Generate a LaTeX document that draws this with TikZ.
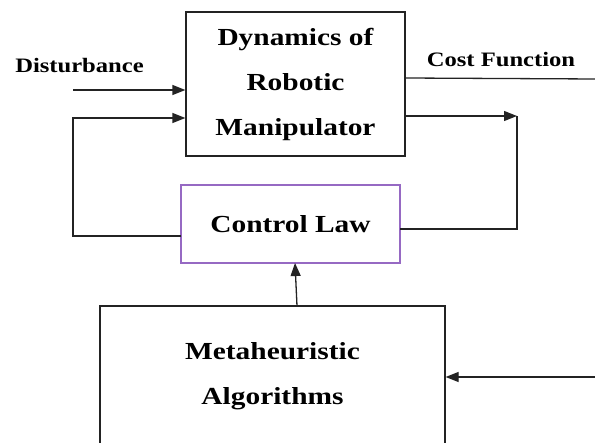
\documentclass[tikz,border=0pt]{standalone}
\usepackage{fontspec}
\setmainfont{Liberation Serif}[FakeStretch=1.2]
\usetikzlibrary{arrows.meta}
\definecolor{ink}{RGB}{35,35,35}
\definecolor{lawpurple}{RGB}{150,105,195}
\begin{document}
\begin{tikzpicture}[x=1pt,y=-1pt,
  wire/.style={draw=ink,line width=1.3pt},
  arr/.style={wire,-{Triangle[length=13pt,width=10pt]}},
  block/.style={draw=ink,line width=1.3pt,inner sep=0pt,align=center,
    font=\bfseries\fontsize{24.5}{45}\selectfont},
  lbl/.style={font=\bfseries\fontsize{20.5}{24}\selectfont,inner sep=0pt,anchor=base}]
\useasboundingbox (0,0) rectangle (595,443);

% blocks
\node[block,minimum width=219pt,minimum height=144pt] (dyn) at (295.5,84)
  {Dynamics of\\Robotic\\Manipulator};
\node[block,draw=lawpurple,minimum width=219pt,minimum height=78pt] (law) at (290.5,224)
  {Control Law};
\node[block,minimum width=345pt,minimum height=140pt] (meta) at (272.5,376)
  {Metaheuristic\\Algorithms};

% labels
\node[lbl] (dlab) at (79.5,73) {Disturbance};
\node[lbl] (clab) at (501,67) {Cost Function};

% helper points
\coordinate (ds) at (73,90);
\coordinate (fb) at (73,118);
\coordinate (lawl) at (181,236);
\coordinate (lawr) at (400,229);
\coordinate (outc) at (517,116);
\coordinate (costa) at (405,78);
\coordinate (costb) at (596,79);
\coordinate (up) at (297,306);
\coordinate (upt) at (295,263);
\coordinate (min) at (596,377);

% connectors
\draw[arr] (ds) -- (ds -| dyn.west);
\draw[arr] (lawl) -| (fb) -- (fb -| dyn.west);
\draw[arr] (outc -| dyn.east) -- (outc);
\draw[wire] (lawr) -| (outc);
\draw[wire] (costa) -- (costb);
\draw[arr] (up) -- (upt);
\draw[arr] (min) -- (min -| meta.east);
\end{tikzpicture}
\end{document}
